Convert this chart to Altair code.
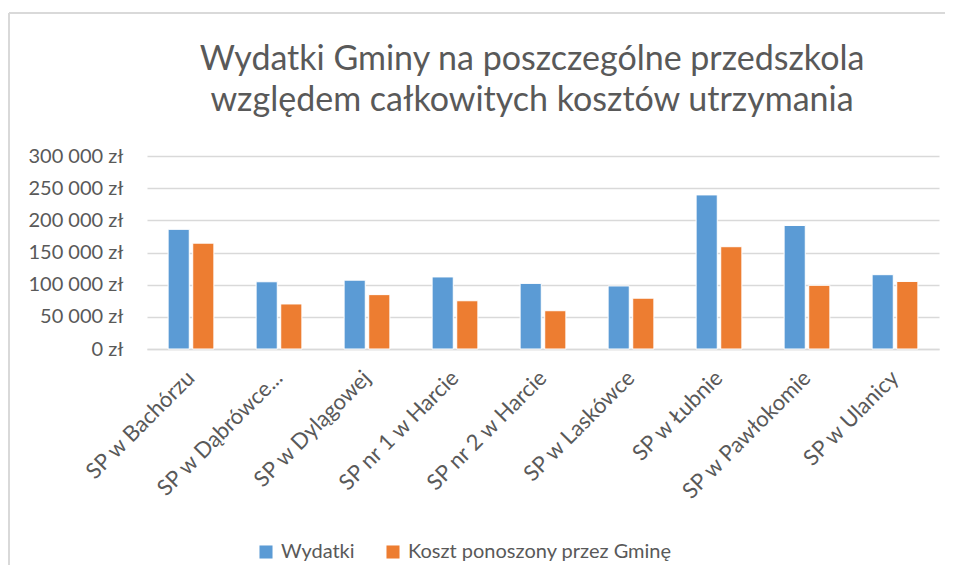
import altair as alt
import pandas as pd

categories = ["SP w Bachórzu", "SP w Dąbrówce...", "SP w Dylągowej", "SP nr 1 w Harcie",
              "SP nr 2 w Harcie", "SP w Laskówce", "SP w Łubnie", "SP w Pawłokomie", "SP w Ulanicy"]
wydatki = [186000, 104500, 107000, 112000, 102000, 98000, 239500, 192000, 115500]
koszt = [164500, 70000, 84500, 75000, 59500, 79000, 159000, 99000, 105000]
series = ["Wydatki", "Koszt ponoszony przez Gminę"]
y_ticks = [0, 50000, 100000, 150000, 200000, 250000, 300000]

rows = []
for c, w, k in zip(categories, wydatki, koszt):
    rows.append({"szkola": c, "seria": series[0], "wartosc": w})
    rows.append({"szkola": c, "seria": series[1], "wartosc": k})
df = pd.DataFrame(rows)

FONT = "Lato"
TXT = "#595959"

bars = alt.Chart(df).mark_bar(stroke="white", strokeWidth=1).encode(
    x=alt.X("szkola:N", sort=categories, title=None,
            scale=alt.Scale(paddingInner=0.48, paddingOuter=0.24),
            axis=alt.Axis(labelAngle=-45, labelAlign="right", labelBaseline="middle",
                          labelPadding=25, ticks=False, domain=True, domainColor="#D9D9D9",
                          domainWidth=1.5, labelFontSize=22, labelColor=TXT, labelFont=FONT,
                          labelLimit=300)),
    xOffset=alt.XOffset("seria:N", sort=series, scale=alt.Scale(paddingInner=0.14)),
    y=alt.Y("wartosc:Q", title=None,
            scale=alt.Scale(domain=[0, 300000], nice=False),
            axis=alt.Axis(values=y_ticks, grid=True, gridColor="#D9D9D9", gridWidth=1.5,
                          domain=False, ticks=False, labelPadding=24, labelFontSize=20,
                          labelColor=TXT, labelFont=FONT,
                          labelExpr="replace(format(datum.value, ',.0f'), regexp(',', 'g'), ' ') + ' zł'")),
    color=alt.Color("seria:N", sort=series,
                    scale=alt.Scale(domain=series, range=["#5B9BD5", "#ED7D31"]),
                    legend=alt.Legend(title=None, orient="none", direction="horizontal",
                                      legendX=109, legendY=386, symbolType="square",
                                      symbolSize=170, symbolStrokeWidth=0, labelFontSize=20,
                                      labelColor=TXT, labelFont=FONT, columnPadding=28,
                                      labelOffset=5, labelLimit=400)),
)

frame_src = pd.DataFrame({"b": [0]})
border_left = alt.Chart(frame_src).mark_rule(color="#D9D9D9", strokeWidth=2).encode(
    x=alt.value(-138), x2=alt.value(-138), y=alt.value(-143), y2=alt.value(409))
border_top = alt.Chart(frame_src).mark_rule(color="#D9D9D9", strokeWidth=2).encode(
    x=alt.value(-138), x2=alt.value(798), y=alt.value(-143), y2=alt.value(-143))

chart = alt.layer(border_left, border_top, bars).properties(
    width=792, height=193,
    title=alt.TitleParams(["Wydatki Gminy na poszczególne przedszkola",
                           "względem całkowitych kosztów utrzymania"],
                          anchor="middle", frame="group", fontSize=34, font=FONT,
                          fontWeight="normal", color=TXT, lineHeight=41, offset=-106, dx=-11),
    autosize=alt.AutoSizeParams(type="none"),
    padding={"left": 139, "top": 148, "right": 8, "bottom": 216},
).configure(background="white").configure_view(stroke=None)

chart.save("out.html", embed_options={"renderer": "svg", "actions": False})
